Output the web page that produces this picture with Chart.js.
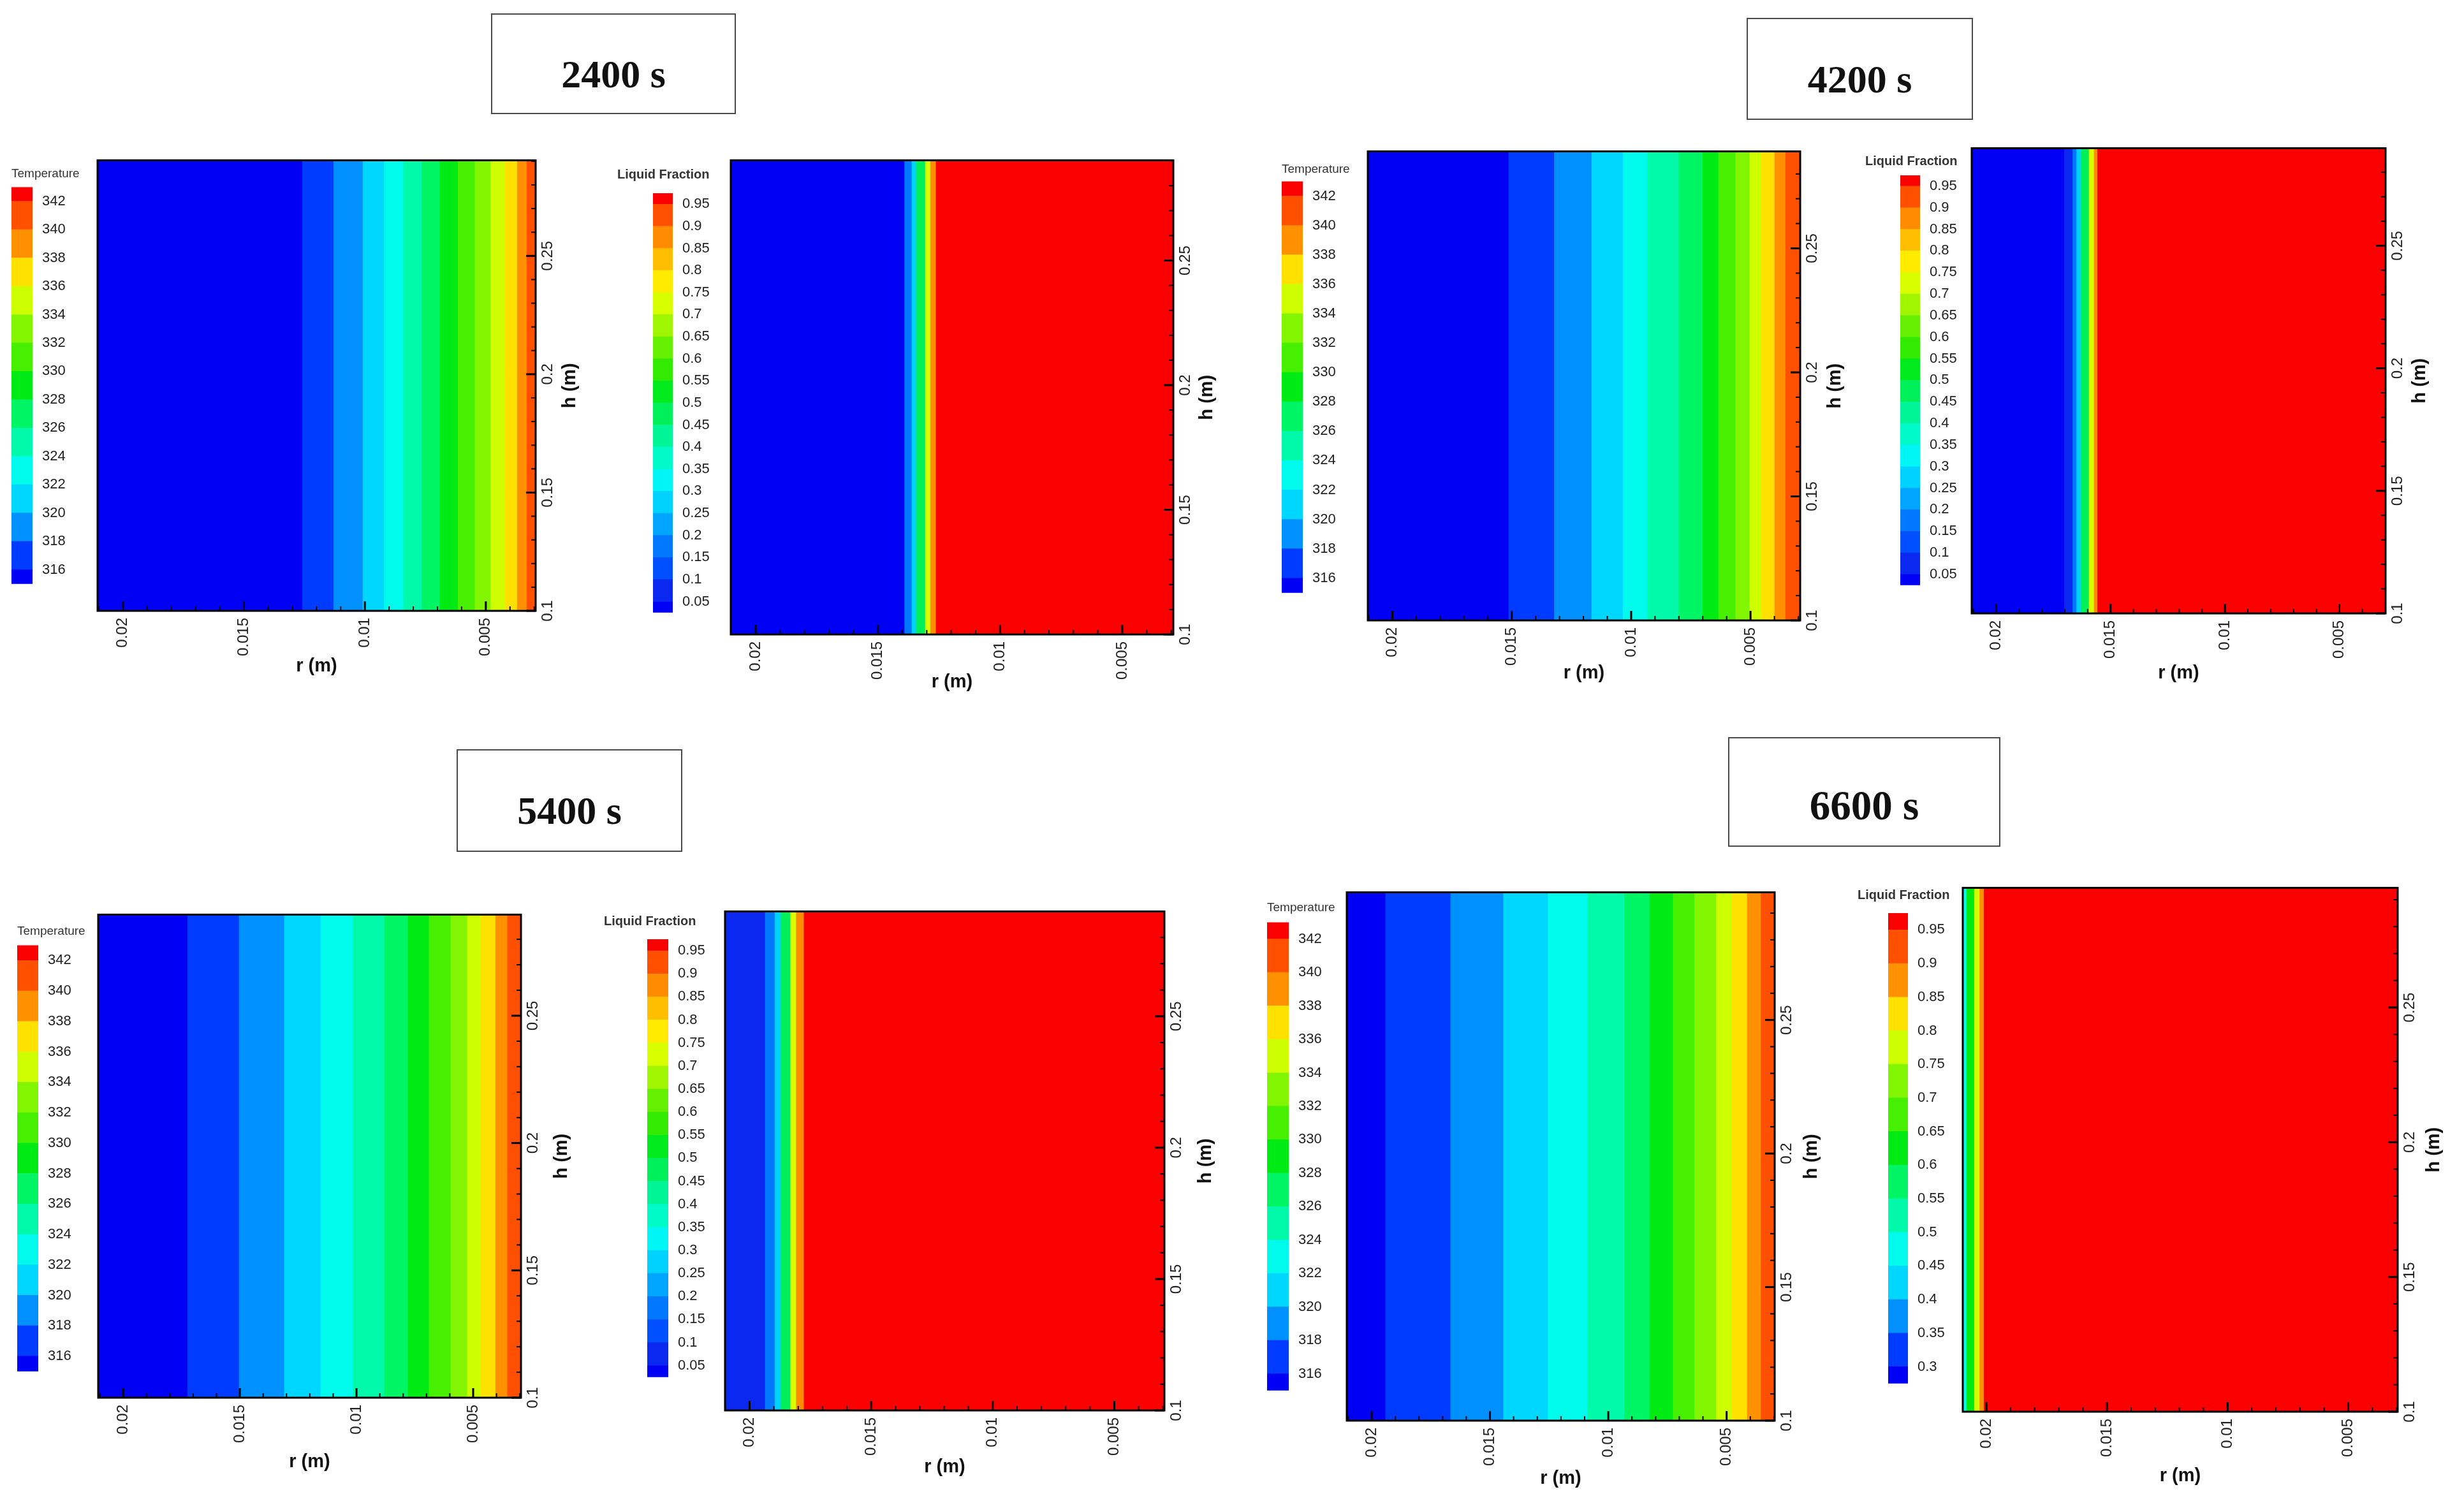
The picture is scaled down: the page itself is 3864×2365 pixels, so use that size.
<!DOCTYPE html>
<html><head><meta charset="utf-8">
<script src="https://cdn.jsdelivr.net/npm/chart.js@4.4.1/dist/chart.umd.min.js"></script>
<style>
html,body{margin:0;padding:0;background:#fff;}
#stage{position:relative;width:3864px;height:2365px;overflow:hidden;background:#fff;}
#stage canvas{position:absolute;}
.tbox{position:absolute;box-sizing:border-box;border:2px solid #4a4a4a;font-family:"Liberation Serif","Times New Roman",serif;font-weight:bold;color:#111;display:flex;align-items:center;justify-content:center;}
</style></head><body><div id="stage"></div>
<script>
// ================= DATA =================
const times = ['2400 s', '4200 s', '5400 s', '6600 s'];
const rTicks = [0.005, 0.01, 0.015, 0.02];
const hTicks = [0.1, 0.15, 0.2, 0.25];
const rMinorStep = 0.001;
const hMinorStep = 0.01;
// temperature colour-bar labels (K)
const tempBarTicks = [316, 318, 320, 322, 324, 326, 328, 330, 332, 334, 336, 338, 340, 342];
// liquid-fraction colour-bar labels
const lfBarTicks = [0.05, 0.1, 0.15, 0.2, 0.25, 0.3, 0.35, 0.4, 0.45, 0.5, 0.55, 0.6, 0.65, 0.7, 0.75, 0.8, 0.85, 0.9, 0.95];
const lfBarTicks6600 = [0.3, 0.35, 0.4, 0.45, 0.5, 0.55, 0.6, 0.65, 0.7, 0.75, 0.8, 0.85, 0.9, 0.95];
// isotherm levels (K) and their radial positions r (m)
const tempLevels = [316, 318, 320, 322, 324, 326, 328, 330, 332, 334, 336, 338, 340];
const iso2400 = [0.01258, 0.01129, 0.01008, 0.00920, 0.00840, 0.00765, 0.00690, 0.00615, 0.00545, 0.00480, 0.00420, 0.00370, 0.00330];
const iso4200 = [0.01513, 0.01322, 0.01165, 0.01034, 0.00930, 0.00800, 0.00700, 0.00634, 0.00562, 0.00503, 0.00455, 0.00399, 0.00353];
const iso5400 = [0.01724, 0.01503, 0.01309, 0.01153, 0.01014, 0.00880, 0.00779, 0.00689, 0.00596, 0.00525, 0.00467, 0.00404, 0.00353];
const iso6600 = [0.01941, 0.01666, 0.01443, 0.01254, 0.01087, 0.00931, 0.00825, 0.00726, 0.00635, 0.00544, 0.00479, 0.00413, 0.00355];
// liquid-fraction levels and melt-front radial positions r (m)
const lfLevels = [0.05, 0.15, 0.25, 0.45, 0.7, 0.85, 0.95];
const front2400 = [0.01392, 0.01390, 0.01361, 0.01343, 0.01306, 0.01285, 0.01262];
const front4200 = [0.01702, 0.01665, 0.01648, 0.01630, 0.01594, 0.01572, 0.01557];
const front5400 = [0.02101, 0.01936, 0.01896, 0.01871, 0.01832, 0.01808, 0.01776];
const lfLevels6600 = [0.45, 0.6, 0.75, 0.85, 0.95];
const front6600 = [0.02098, 0.02082, 0.02050, 0.02028, 0.02010];

// ================= STYLE =================
const tempColors = ['rgb(0,0,245)', 'rgb(0,60,255)', 'rgb(0,145,255)', 'rgb(0,215,255)', 'rgb(0,250,235)',
  'rgb(0,250,170)', 'rgb(0,245,100)', 'rgb(0,235,20)', 'rgb(70,240,0)', 'rgb(130,245,0)',
  'rgb(205,255,0)', 'rgb(255,225,0)', 'rgb(255,145,0)', 'rgb(255,80,0)', 'rgb(250,0,0)'];
const lfColors = ['rgb(0,0,245)', 'rgb(10,40,240)', 'rgb(0,80,255)', 'rgb(0,120,255)', 'rgb(0,165,255)',
  'rgb(0,210,255)', 'rgb(0,245,245)', 'rgb(0,250,200)', 'rgb(0,245,150)', 'rgb(0,240,90)',
  'rgb(0,235,30)', 'rgb(50,235,0)', 'rgb(100,240,0)', 'rgb(160,245,0)', 'rgb(215,255,0)',
  'rgb(255,235,0)', 'rgb(255,190,0)', 'rgb(255,140,0)', 'rgb(255,80,0)', 'rgb(250,0,0)'];
const FONT = "'Liberation Sans', Arial, sans-serif";
Chart.defaults.font.family = FONT;
Chart.defaults.color = '#222';

// layout: plot rect [L,T,R,B], r range [wall, outer], h top, title offsets, colour bar rect, bar title position
const layout = [
  {plot:[153,247,840,958],   r:[0.00294,0.02105], hTop:0.2904, rt:87,  ht:54, bar:[18,293,51,944],        tl:18,     ty:272},
  {plot:[1146,247,1840,995], r:[0.00291,0.02102], hTop:0.2902, rt:75,  ht:53, bar:[1024,303,1055,989],    tl:968,    ty:274},
  {plot:[2145,233,2823,973], r:[0.00292,0.02103], hTop:0.2891, rt:83,  ht:55, bar:[2010,284,2043,958],    tl:2010,   ty:265},
  {plot:[3092,228,3741,962], r:[0.00298,0.02107], hTop:0.2898, rt:94,  ht:54, bar:[2980,275,3011,946],    tl:2925,   ty:253},
  {plot:[154,1430,817,2192], r:[0.00295,0.02107], hTop:0.2897, rt:101, ht:64, bar:[27,1482,60,2179],      tl:27,     ty:1460},
  {plot:[1137,1425,1826,2212], r:[0.00294,0.02101], hTop:0.2899, rt:89, ht:65, bar:[1015,1473,1048,2188], tl:947,    ty:1445},
  {plot:[2112,1395,2783,2228], r:[0.00297,0.02105], hTop:0.2978, rt:91, ht:58, bar:[1987,1446,2021,2209], tl:1987,   ty:1423},
  {plot:[3078,1388,3760,2214], r:[0.00295,0.02098], hTop:0.2944, rt:101, ht:57, bar:[2961,1432,2992,2198], tl:2913,  ty:1404}
];
const boxes = [[770,21,1154,179,16,62],[2739,28,3094,188,16,62],[716,1175,1070,1336,16,62],[2710,1156,3137,1328,21,65]];

const stage = document.getElementById('stage');
const fmt = v => String(+(+v).toFixed(5));

const framePlugin = {
  id: 'frame',
  afterDatasetsDraw(chart, args, o) {
    const {ctx, chartArea: a, scales} = chart;
    const xs = scales.x, hs = scales.h;
    ctx.save();
    ctx.strokeStyle = '#000';
    ctx.lineCap = 'butt';
    const r0 = Math.ceil(xs.min / rMinorStep - 1e-6), r1 = Math.floor(xs.max / rMinorStep + 1e-6);
    for (let i = r0; i <= r1; i++) {
      const major = i % 5 === 0;
      const px = xs.getPixelForValue(i * rMinorStep);
      ctx.lineWidth = major ? 3 : 2;
      ctx.beginPath(); ctx.moveTo(px, a.bottom); ctx.lineTo(px, a.bottom - (major ? 15 : 7)); ctx.stroke();
    }
    const h0 = Math.ceil(hs.min / hMinorStep - 1e-6), h1 = Math.floor(hs.max / hMinorStep + 1e-6);
    for (let i = h0; i <= h1; i++) {
      const major = i % 5 === 0;
      const py = hs.getPixelForValue(i * hMinorStep);
      ctx.lineWidth = major ? 3 : 2;
      ctx.beginPath(); ctx.moveTo(a.right, py); ctx.lineTo(a.right - (major ? 15 : 7), py); ctx.stroke();
    }
    ctx.lineWidth = 3;
    ctx.strokeRect(a.left, a.top, a.right - a.left, a.bottom - a.top);
    // h axis title, reading bottom-to-top
    ctx.fillStyle = '#111';
    ctx.font = 'bold 29px ' + FONT;
    ctx.translate(a.right + o.ht, (a.top + a.bottom) / 2);
    ctx.rotate(-Math.PI / 2);
    ctx.textAlign = 'center'; ctx.textBaseline = 'middle';
    ctx.fillText('h (m)', 0, 0);
    ctx.restore();
  }
};

function addCanvas(x, y, w, h) {
  const cv = document.createElement('canvas');
  cv.width = Math.round(w); cv.height = Math.round(h);
  cv.style.left = Math.round(x) + 'px'; cv.style.top = Math.round(y) + 'px';
  cv.style.width = Math.round(w) + 'px'; cv.style.height = Math.round(h) + 'px';
  stage.appendChild(cv);
  return cv;
}

function barDs(lo, hi, color, order) {
  return {data: [[lo, hi]], backgroundColor: color, borderWidth: 0, grouped: false, order: order,
          barPercentage: 1, categoryPercentage: 1, borderSkipped: false};
}

function makeField(P, levels, positions, colors, bandIndex) {
  const [L, T, R, B] = P.plot;
  const padL = 6, padT = 6, padR = 120, padB = 140;
  const cv = addCanvas(L - padL, T - padT, (R - L) + padL + padR, (B - T) + padT + padB);
  // base (coldest / solid) band first, then each level drawn over it; higher order = drawn earlier
  const n = levels.length;
  const ds = [barDs(P.r[1], P.r[0], colors[0], n + 1)];
  levels.forEach((lv, i) => ds.push(barDs(positions[i], P.r[0], colors[bandIndex(lv)], n - i)));
  new Chart(cv, {
    type: 'bar',
    data: {labels: [''], datasets: ds},
    options: {
      indexAxis: 'y', responsive: false, maintainAspectRatio: false, animation: false, events: [],
      layout: {padding: {left: padL, top: padT, right: 0, bottom: 0}, autoPadding: false},
      plugins: {legend: {display: false}, tooltip: {enabled: false}, frame: {ht: P.ht}},
      scales: {
        x: {type: 'linear', reverse: true, min: P.r[0], max: P.r[1], position: 'bottom', offset: false,
            afterBuildTicks: s => { s.ticks = rTicks.map(v => ({value: v})); },
            afterFit: s => { s.height = padB; },
            grid: {display: false, drawTicks: false}, border: {display: false},
            ticks: {minRotation: 90, maxRotation: 90, autoSkip: false, padding: 11,
                    font: {size: 24}, color: '#222', callback: v => fmt(v)},
            title: {display: true, text: 'r (m)', color: '#111', font: {size: 29, weight: 'bold'},
                    padding: {top: 0, bottom: padB - P.rt - 29 * 1.2 / 2}}},
        y: {type: 'category', display: false, offset: true},
        h: {type: 'linear', axis: 'y', position: 'right', min: 0.1, max: P.hTop, offset: false,
            afterBuildTicks: s => { s.ticks = hTicks.map(v => ({value: v})); },
            afterFit: s => { s.width = padR; },
            grid: {display: false, drawTicks: false, offset: false}, border: {display: false},
            ticks: {minRotation: 90, maxRotation: 90, autoSkip: false, crossAlign: 'center', padding: -4,
                    font: {size: 24}, color: '#222', callback: v => fmt(v)}}
      }
    },
    plugins: [framePlugin]
  });
}

function makeColorBar(P, ticks, colors, lo, hi, title, bold) {
  const [bl, bt, br, bb] = P.bar;
  const f = bold ? 20 : 19;
  const top = P.ty - 0.6 * f;
  const padLeft = bl - P.tl;
  const labW = 100;
  const cv = addCanvas(P.tl, top, padLeft + (br - bl) + labW, bb - top);
  const edges = [lo, ...ticks, hi];
  const ds = colors.map((c, i) => barDs(edges[i], edges[i + 1], c, 0));
  new Chart(cv, {
    type: 'bar',
    data: {labels: [''], datasets: ds},
    options: {
      responsive: false, maintainAspectRatio: false, animation: false, events: [],
      layout: {padding: 0, autoPadding: false},
      plugins: {legend: {display: false}, tooltip: {enabled: false},
        title: {display: true, text: title, align: 'start', color: '#333',
                font: {size: f, weight: bold ? 'bold' : 'normal'},
                padding: {top: 0, bottom: bt - P.ty - 0.6 * f}}},
      scales: {
        x: {type: 'category', display: false, offset: true},
        y: {type: 'linear', position: 'right', min: lo, max: hi, offset: false,
            afterBuildTicks: s => { s.ticks = ticks.map(v => ({value: v})); },
            afterFit: s => { s.width = labW; },
            grid: {display: false, drawTicks: false}, border: {display: false},
            ticks: {autoSkip: false, padding: 15, font: {size: 22}, color: '#222', callback: v => fmt(v)}},
        pad: {type: 'linear', axis: 'y', position: 'left', display: padLeft > 0, offset: false,
              afterFit: s => { s.width = padLeft; },
              ticks: {display: false}, grid: {display: false}, border: {display: false}}
      }
    }
  });
}

// ================= BUILD =================
const tempIdx = lv => tempBarTicks.indexOf(lv) + 1;
const lfIdx = lv => lfBarTicks.indexOf(lv) + 1;
const lf6600Idx = lv => lfBarTicks6600.indexOf(lv) + 1;

const isoSets = [iso2400, iso4200, iso5400, iso6600];
const frontSets = [front2400, front4200, front5400];

for (let k = 0; k < 4; k++) {
  const PT = layout[2 * k], PL = layout[2 * k + 1];
  makeField(PT, tempLevels, isoSets[k], tempColors, tempIdx);
  makeColorBar(PT, tempBarTicks, tempColors, 315, 343, 'Temperature', false);
  if (k < 3) {
    makeField(PL, lfLevels, frontSets[k], lfColors, lfIdx);
    makeColorBar(PL, lfBarTicks, lfColors, 0.025, 0.975, 'Liquid Fraction', true);
  } else {
    makeField(PL, lfLevels6600, front6600, tempColors, lf6600Idx);
    makeColorBar(PL, lfBarTicks6600, tempColors, 0.275, 0.975, 'Liquid Fraction', true);
  }
}

boxes.forEach((b, i) => {
  const d = document.createElement('div');
  d.className = 'tbox';
  d.style.left = b[0] + 'px'; d.style.top = b[1] + 'px';
  d.style.width = (b[2] - b[0]) + 'px'; d.style.height = (b[3] - b[1]) + 'px';
  d.style.paddingTop = (2 * b[4]) + 'px';
  d.style.fontSize = b[5] + 'px';
  d.textContent = times[i];
  stage.appendChild(d);
});
</script></body></html>
